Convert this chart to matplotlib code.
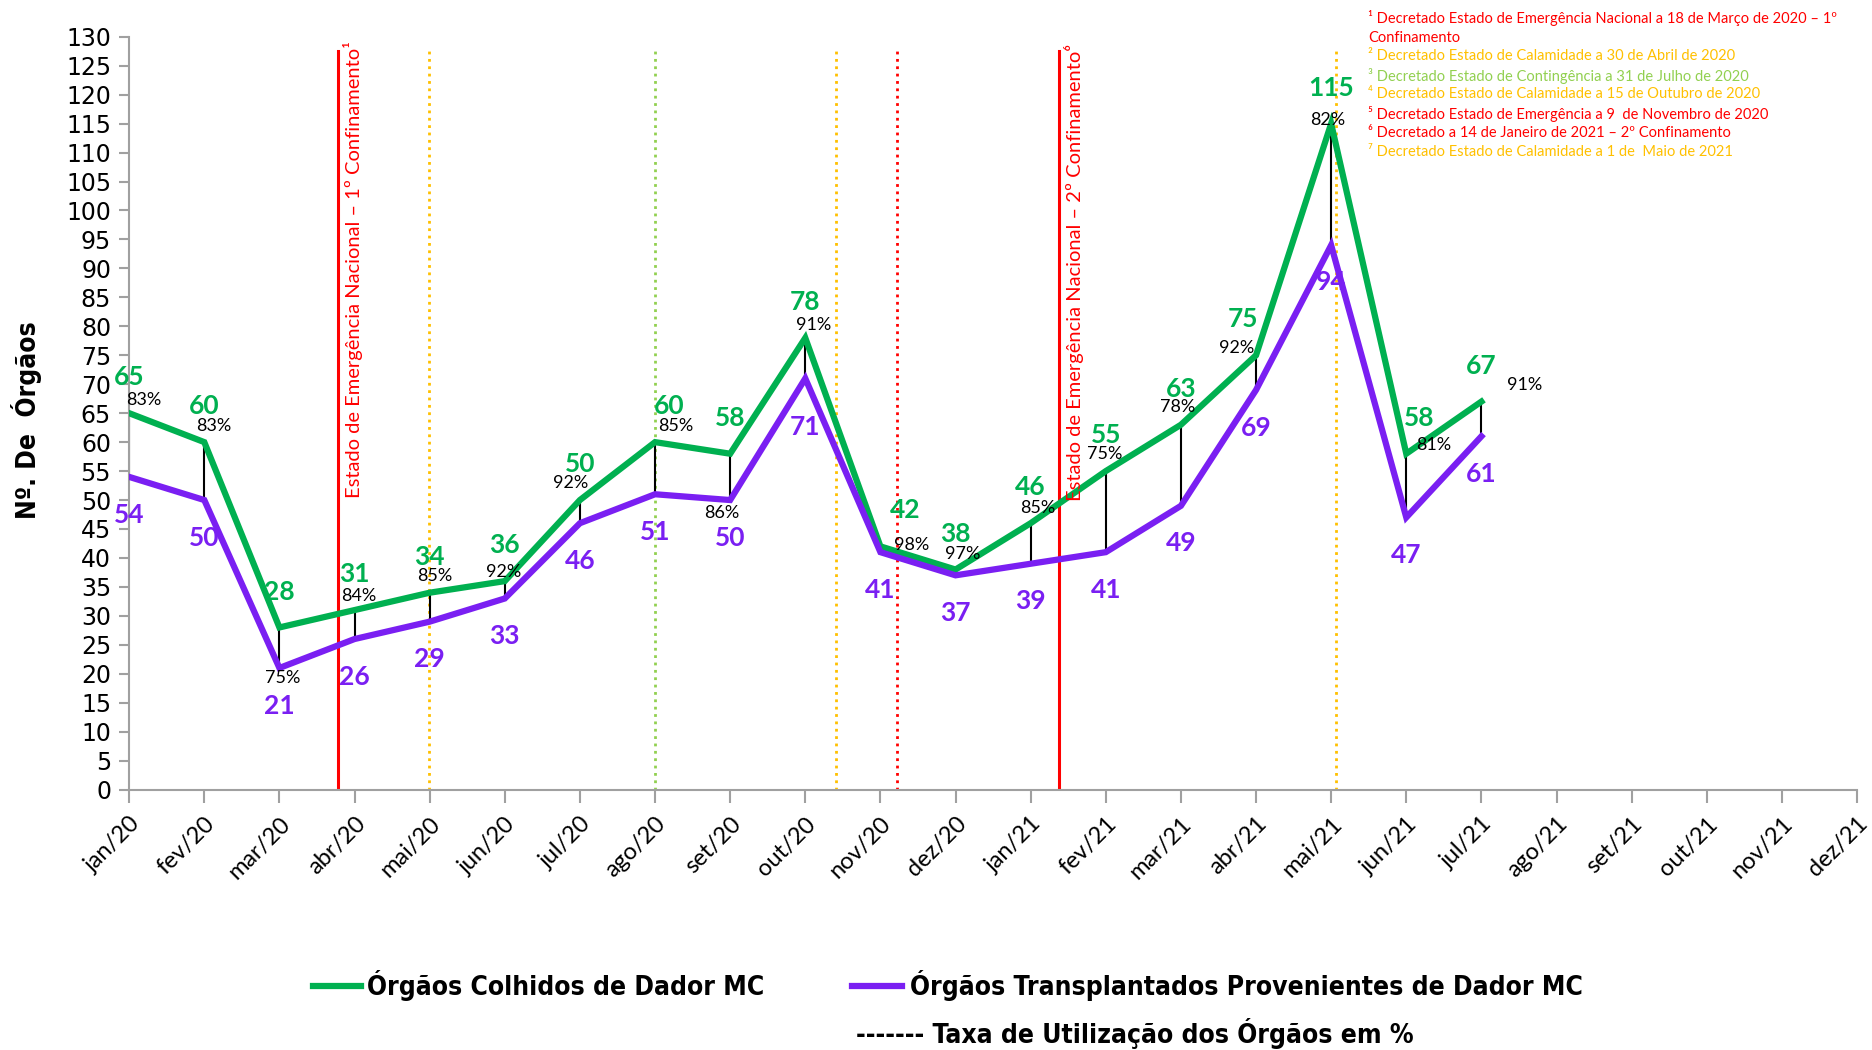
import matplotlib.pyplot as plt
from matplotlib.lines import Line2D

# dados
meses = ['jan/20', 'fev/20', 'mar/20', 'abr/20', 'mai/20', 'jun/20', 'jul/20', 'ago/20',
         'set/20', 'out/20', 'nov/20', 'dez/20', 'jan/21', 'fev/21', 'mar/21', 'abr/21',
         'mai/21', 'jun/21', 'jul/21', 'ago/21', 'set/21', 'out/21', 'nov/21', 'dez/21']
colhidos = [65, 60, 28, 31, 34, 36, 50, 60, 58, 78, 42, 38, 46, 55, 63, 75, 115, 58, 67]
transplantados = [54, 50, 21, 26, 29, 33, 46, 51, 50, 71, 41, 37, 39, 41, 49, 69, 94, 47, 61]
taxa = [83, 83, 75, 84, 85, 92, 92, 85, 86, 91, 98, 97, 85, 75, 78, 92, 82, 81, 91]

# linhas verticais (posicao no eixo dos meses)
eventos_pos = [2.78, 3.99, 7.0, 9.41, 10.22, 12.38, 16.06]
eventos_cor = ['#FF0000', '#FFC000', '#92D050', '#FFC000', '#FF0000', '#FF0000', '#FFC000']
eventos_estilo = ['-', ':', ':', ':', ':', '-', ':']

notas = ['Decretado Estado de Emergência Nacional a 18 de Março de 2020 – 1º\nConfinamento',
         'Decretado Estado de Calamidade a 30 de Abril de 2020',
         'Decretado Estado de Contingência a 31 de Julho de 2020',
         'Decretado Estado de Calamidade a 15 de Outubro de 2020',
         'Decretado Estado de Emergência a 9  de Novembro de 2020',
         'Decretado a 14 de Janeiro de 2021 – 2º Confinamento',
         'Decretado Estado de Calamidade a 1 de  Maio de 2021']
sup = ['¹', '²', '³', '⁴', '⁵', '⁶', '⁷']

VERDE = '#00B050'
ROXO = '#7A1FF2'

# posicoes dos rotulos (offsets, layout)
pct_dx = [0.19, 0.13, 0.05, 0.05, 0.07, -0.02, -0.12, 0.28, -0.11, 0.11, 0.41, 0.1, 0.1,
          -0.01, -0.04, -0.26, -0.04, 0.36, 0.57]
pct_y = [67.2, 62.8, 19.2, 33.4, 36.9, 37.5, 52.9, 62.8, 47.8, 80.3, 42.2, 40.6, 48.6,
         58.0, 66.1, 76.2, 115.6, 59.5, 69.8]
verde_dx = [0, 0, 0, 0, 0, 0, 0, 0.19, 0, 0, 0.33, 0, 0, 0, 0, -0.18, 0, 0.17, 0]
roxo_dy = [-6.5] * 19
roxo_dy[9] = -8.4
roxo_dy[16] = -6.4

fig = plt.figure(figsize=(18.72, 10.5), dpi=100)
ax = fig.add_axes([0.069, 0.248, 0.923, 0.717])

x = list(range(len(colhidos)))

for p, c, s in zip(eventos_pos, eventos_cor, eventos_estilo):
    ax.plot([p, p], [0, 127.5], color=c, ls=s, lw=2.2 if s == '-' else 2.0, zorder=1)

for i in x:
    ax.plot([i, i], [transplantados[i], colhidos[i]], color='black', lw=1.5, zorder=2)

ax.plot(x, colhidos, color=VERDE, lw=4.5, zorder=3, solid_joinstyle='miter')
ax.plot(x, transplantados, color=ROXO, lw=4.5, zorder=3, solid_joinstyle='miter')

for i in x:
    ax.text(i + verde_dx[i], colhidos[i] + 6.2, str(colhidos[i]), color=VERDE, fontsize=19,
            fontweight='bold', family='Lato', ha='center', va='center', zorder=5)
    ax.text(i, transplantados[i] + roxo_dy[i], str(transplantados[i]), color=ROXO, fontsize=19,
            fontweight='bold', family='Lato', ha='center', va='center', zorder=5)
    ax.text(i + pct_dx[i], pct_y[i], '%d%%' % taxa[i], color='black', fontsize=13,
            family='Lato', ha='center', va='center', zorder=5)

ax.text(2.78 + 0.07, 50.3, 'Estado de Emergência Nacional – 1º Confinamento¹', rotation=90,
        color='#FF0000', fontsize=14.5, family='Lato', ha='left', va='bottom')
ax.text(12.38 + 0.07, 49.9, 'Estado de Emergência Nacional – 2º Confinamento⁶', rotation=90,
        color='#FF0000', fontsize=14.5, family='Lato', ha='left', va='bottom')

ax.set_xlim(0, 23)
ax.set_ylim(0, 130)
ax.set_xticks(range(len(meses)))
ax.set_xticklabels(meses, rotation=45, ha='right', rotation_mode='anchor', fontsize=17,
                   family='Lato')
ax.set_yticks(range(0, 131, 5))
ax.tick_params(axis='y', labelsize=17, color='#A0A0A0', length=7, width=1.5, pad=6)
ax.tick_params(axis='x', color='#A0A0A0', length=9, width=1.5, pad=8)
for lab in ax.get_yticklabels():
    lab.set_family('DejaVu Sans')
for s in ['top', 'right']:
    ax.spines[s].set_visible(False)
for s in ['left', 'bottom']:
    ax.spines[s].set_color('#A0A0A0')
    ax.spines[s].set_linewidth(1.5)

fig.text(0.014, 0.6, 'Nº. De  Órgãos', rotation=90, fontsize=19, fontweight='bold',
         family='DejaVu Sans', fontstretch='condensed', ha='center', va='center')

# notas no canto superior direito
cores_notas = ['#FF0000', '#FFC000', '#92D050', '#FFC000', '#FF0000', '#FF0000', '#FFC000']
ytxt = 0.990
for k, (n, c) in enumerate(zip(notas, cores_notas)):
    fig.text(0.731, ytxt, sup[k] + ' ' + n, color=c, fontsize=10.5, family='Lato',
             ha='left', va='top', linespacing=1.45)
    ytxt -= 0.0365 if k == 0 else 0.0183

# legenda
leg = dict(fontsize=19, fontweight='bold', family='DejaVu Sans', fontstretch='condensed',
           va='center', ha='left')
fig.add_artist(Line2D([0.167, 0.193], [0.061, 0.061], color=VERDE, lw=4.5))
fig.text(0.196, 0.061, 'Órgãos Colhidos de Dador MC', **leg)
fig.add_artist(Line2D([0.455, 0.482], [0.061, 0.061], color=ROXO, lw=4.5))
fig.text(0.486, 0.061, 'Órgãos Transplantados Provenientes de Dador MC', **leg)
fig.text(0.457, 0.016, '------- Taxa de Utilização dos Órgãos em %', **leg)

plt.savefig('out.png', dpi=100)
